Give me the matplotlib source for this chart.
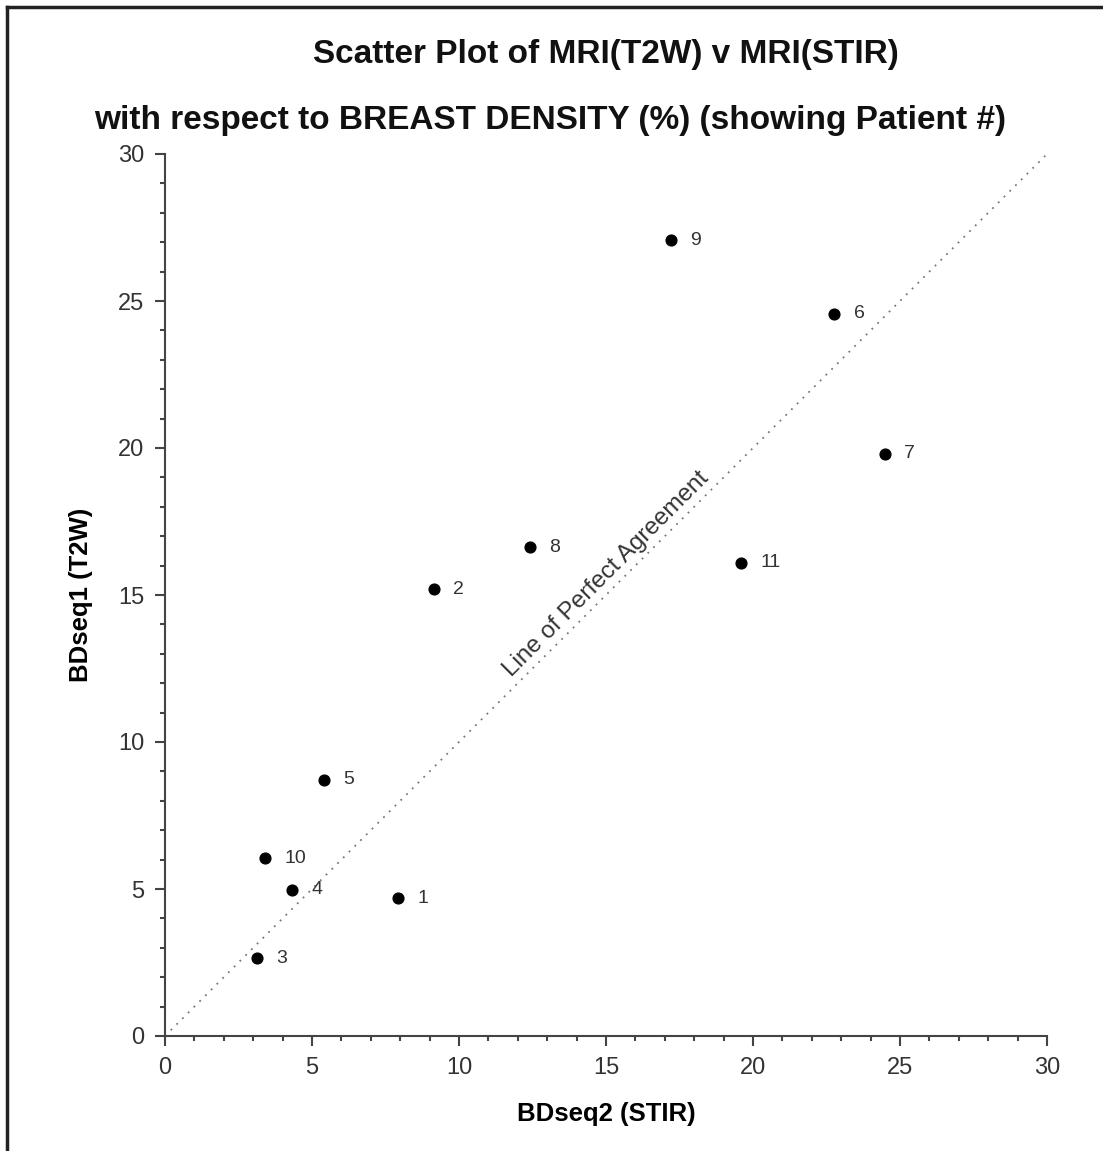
import matplotlib
matplotlib.use("Agg")
import matplotlib.pyplot as plt
from matplotlib.lines import Line2D
from matplotlib.ticker import MultipleLocator

plt.rcParams["font.family"] = ["Liberation Sans", "DejaVu Sans"]

# patient data: BDseq2 (STIR) on x, BDseq1 (T2W) on y
patients = ["1", "2", "3", "4", "5", "6", "7", "8", "9", "10", "11"]
stir = [7.93, 9.15, 3.13, 4.32, 5.41, 22.76, 24.49, 12.41, 17.21, 3.40, 19.59]
t2w = [4.69, 15.20, 2.65, 4.97, 8.71, 24.56, 19.80, 16.63, 27.07, 6.05, 16.09]
agree_line = [0, 30]

W, H = 1103, 1151
fig = plt.figure(figsize=(W / 100, H / 100), dpi=100)
ax = fig.add_axes([165 / W, 1 - 1036 / H, (1047 - 165) / W, (1036 - 154) / H])

# outer frame (top and left edges only visible)
fig.add_artist(Line2D([7 / W, 1], [1 - 7 / H, 1 - 7 / H], color="#222222", lw=2.5,
                      transform=fig.transFigure))
fig.add_artist(Line2D([7 / W, 7 / W], [0, 1 - 7 / H], color="#222222", lw=2.5,
                      transform=fig.transFigure))

ax.plot(agree_line, agree_line, linestyle=(0, (1, 3.5)), color="#777777", lw=1.3)
ax.scatter(stir, t2w, s=60, color="black", zorder=3)
for x, y, lab in zip(stir, t2w, patients):
    ax.annotate(lab, (x, y), xytext=(14, 0), textcoords="offset points",
                ha="left", va="center", fontsize=14, color="#333333")

ax.text(15.0, 15.7, "Line of Perfect Agreement", rotation=45, rotation_mode="anchor",
        ha="center", va="center", fontsize=17.5, color="#333333")

ax.set_xlim(0, 30)
ax.set_ylim(0, 30)
ax.xaxis.set_major_locator(MultipleLocator(5))
ax.yaxis.set_major_locator(MultipleLocator(5))
ax.xaxis.set_minor_locator(MultipleLocator(1))
ax.yaxis.set_minor_locator(MultipleLocator(1))
ax.tick_params(which="major", direction="out", length=7, width=1.5, color="#444444",
               labelsize=17, labelcolor="#333333", pad=8)
ax.tick_params(which="minor", direction="out", length=3.5, width=1.5, color="#444444")
for side in ["top", "right"]:
    ax.spines[side].set_visible(False)
for side in ["left", "bottom"]:
    ax.spines[side].set_linewidth(1.5)
    ax.spines[side].set_color("#444444")

ax.set_xlabel("BDseq2 (STIR)", fontsize=18.5, fontweight="bold", labelpad=17)
ax.set_ylabel("BDseq1 (T2W)", fontsize=18.5, fontweight="bold", labelpad=18)

fig.text(606 / W, 1 - 55 / H, "Scatter Plot of MRI(T2W) v MRI(STIR)", ha="center",
         va="center", fontsize=24, fontweight="bold", color="#111111")
fig.text(550 / W, 1 - 120 / H, "with respect to BREAST DENSITY (%) (showing Patient #)",
         ha="center", va="center", fontsize=24, fontweight="bold", color="#111111")

fig.savefig("out.png", dpi=100)
